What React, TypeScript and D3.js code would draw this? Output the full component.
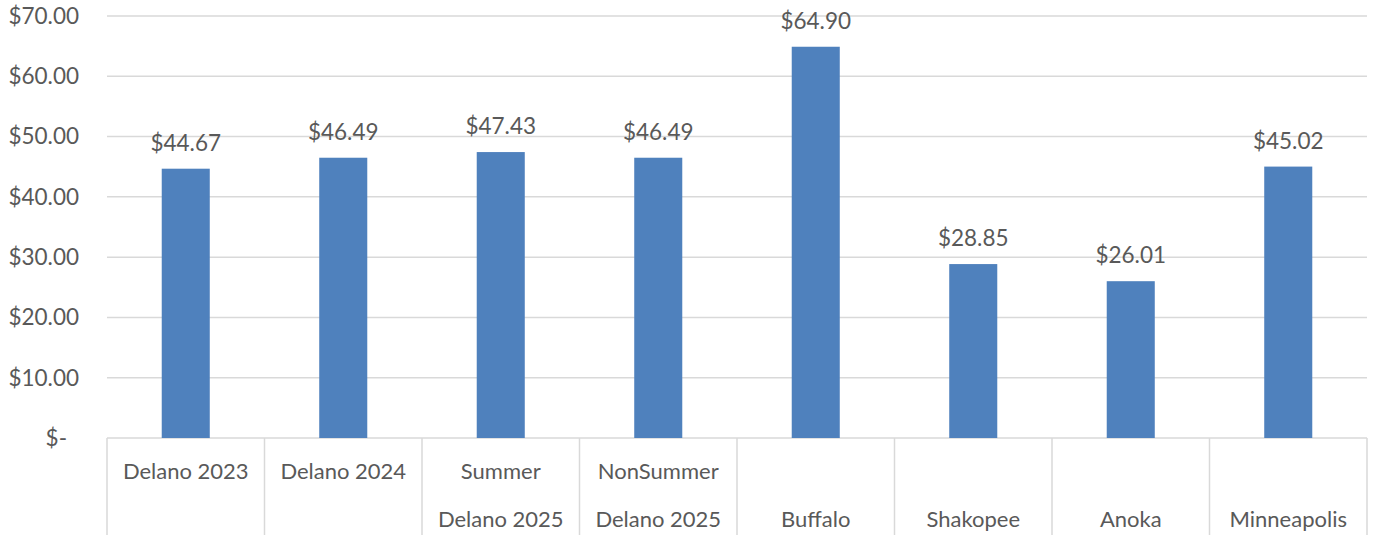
import React from "react";
import * as d3 from "d3";

const categories: string[][] = [
  ["Delano 2023", ""],
  ["Delano 2024", ""],
  ["Summer", "Delano 2025"],
  ["NonSummer", "Delano 2025"],
  ["", "Buffalo"],
  ["", "Shakopee"],
  ["", "Anoka"],
  ["", "Minneapolis"],
];
const values: number[] = [44.67, 46.49, 47.43, 46.49, 64.9, 28.85, 26.01, 45.02];
const yTicks: number[] = [0, 10, 20, 30, 40, 50, 60, 70];

const W = 1376;
const H = 539;
const left = 107;
const right = 1367;
const top = 16;
const base = 438;

const FONT = "Lato, 'Open Sans', sans-serif";
const TEXT = "#595959";
const GRID = "#d9d9d9";
const BAR = "#4f81bd";

export default function App() {
  const keys = categories.map((_, i) => String(i));
  const x = d3.scaleBand<string>().domain(keys).range([left, right]).paddingInner(0).paddingOuter(0);
  const y = d3.scaleLinear().domain([0, 70]).range([base, top]);
  const bw = x.bandwidth() * 0.305;
  const fmt = (v: number) => (v === 0 ? "$-" : "$" + d3.format(".2f")(v));

  return (
    <svg
      width={W}
      height={H}
      style={{ position: "absolute", left: 0, top: 0, background: "#fff" }}
      fontFamily={FONT}
    >
      {yTicks.map((t) => (
        <g key={t}>
          <line x1={left} x2={right} y1={y(t)} y2={y(t)} stroke={GRID} strokeWidth={1.5} />
          <text
            x={t === 0 ? 67 : 79}
            y={y(t)}
            dy="0.35em"
            textAnchor="end"
            fontSize={22.5}
            fill={TEXT}
          >
            {fmt(t)}
          </text>
        </g>
      ))}
      {keys.map((k) => (
        <line
          key={"sep" + k}
          x1={x(k)!}
          x2={x(k)!}
          y1={base}
          y2={535}
          stroke={GRID}
          strokeWidth={1.5}
        />
      ))}
      <line x1={right} x2={right} y1={base} y2={535} stroke={GRID} strokeWidth={1.5} />
      {values.map((v, i) => {
        const cx = x(keys[i])! + x.bandwidth() / 2;
        return (
          <g key={"bar" + i}>
            <rect x={cx - bw / 2} y={y(v)} width={bw} height={base - y(v)} fill={BAR} />
            <text x={cx} y={y(v) - 18} textAnchor="middle" fontSize={22.5} fill={TEXT}>
              {fmt(v)}
            </text>
          </g>
        );
      })}
      {categories.map((lines, i) => {
        const cx = x(keys[i])! + x.bandwidth() / 2;
        return (
          <g key={"cat" + i}>
            {lines.map((ln, j) =>
              ln ? (
                <text
                  key={j}
                  x={cx}
                  y={471 + j * 48}
                  dy="0.35em"
                  textAnchor="middle"
                  fontSize={22}
                  fill={TEXT}
                >
                  {ln}
                </text>
              ) : null
            )}
          </g>
        );
      })}
    </svg>
  );
}
